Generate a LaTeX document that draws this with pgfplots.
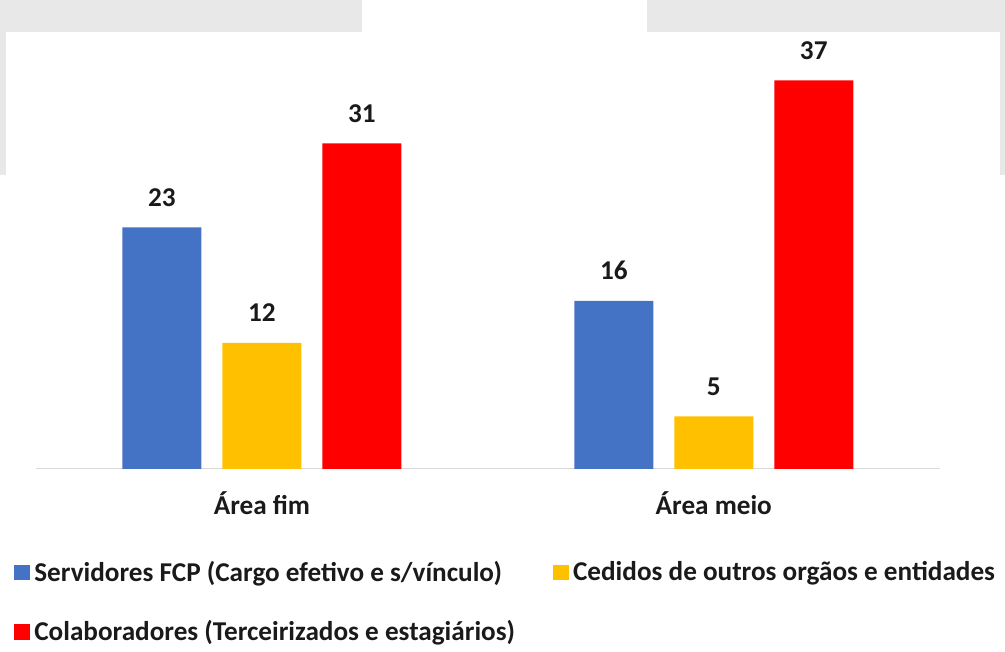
\documentclass[border=0pt]{standalone}
\usepackage{fontspec}
\setmainfont{Carlito}
\usepackage{pgfplots}
\pgfplotsset{compat=1.18}
\definecolor{cblue}{HTML}{4472C4}
\definecolor{cyellow}{HTML}{FFC000}
\definecolor{cred}{HTML}{FF0000}
\definecolor{bggray}{HTML}{E8E8E8}
\definecolor{txt}{HTML}{1A1A1A}
\definecolor{axgray}{HTML}{D9D9D9}
\newcommand\lfont{\fontsize{13.6}{16}\selectfont\bfseries}
\begin{document}
\begin{tikzpicture}
\begin{scope}[x=0.5pt,y=0.5pt]
\useasboundingbox (0,0) rectangle (1005,642);
\fill[bggray] (0,610) rectangle (362,642);
\fill[bggray] (647,610) rectangle (1005,642);
\fill[bggray] (0,467) rectangle (6,642);
\fill[bggray] (1000,467) rectangle (1005,642);
\end{scope}
\begin{axis}[
  scale only axis, width=452pt, height=210pt,
  at={(18pt,86.5pt)}, anchor=south west,
  xmin=-0.5, xmax=1.5, ymin=0, ymax=40,
  axis x line*=bottom, axis y line=none,
  x axis line style={draw=axgray, line width=0.6pt, -},
  xtick={0,1}, xticklabels={Área fim, Área meio}, major tick length=0,
  ytick=\empty,
  xticklabel style={anchor=base, yshift=-23pt, font=\lfont, text=txt},
  /pgf/number format/assume math mode=true,
  ybar, bar width=39.5pt,
  nodes near coords,
  nodes near coords style={anchor=base, yshift=10.5pt, font=\lfont, text=txt},
  clip=false,
  legend columns=2,
  legend cell align=left,
  legend style={draw=none, fill=none, at={(-0.031,-0.2)}, anchor=north west,
    font=\lfont, text=txt, row sep=14pt,
    /tikz/every even column/.append style={column sep=17pt}},
]
\addplot[fill=cblue, draw=none, bar shift=-50pt,
  legend image code/.code={\fill[cblue] (0pt,-3.8pt) rectangle (8pt,3.8pt);}]
  coordinates {(0,23) (1,16)};
\addplot[fill=cyellow, draw=none, bar shift=0pt,
  legend image code/.code={\fill[cyellow] (0pt,-3.8pt) rectangle (8pt,3.8pt);}]
  coordinates {(0,12) (1,5)};
\addplot[fill=cred, draw=none, bar shift=50pt,
  legend image code/.code={\fill[cred] (0pt,-3.8pt) rectangle (8pt,3.8pt);}]
  coordinates {(0,31) (1,37)};
\legend{Servidores FCP (Cargo efetivo e s/vínculo), Cedidos de outros orgãos e entidades, Colaboradores (Terceirizados e estagiários)}
\end{axis}
\end{tikzpicture}
\end{document}
